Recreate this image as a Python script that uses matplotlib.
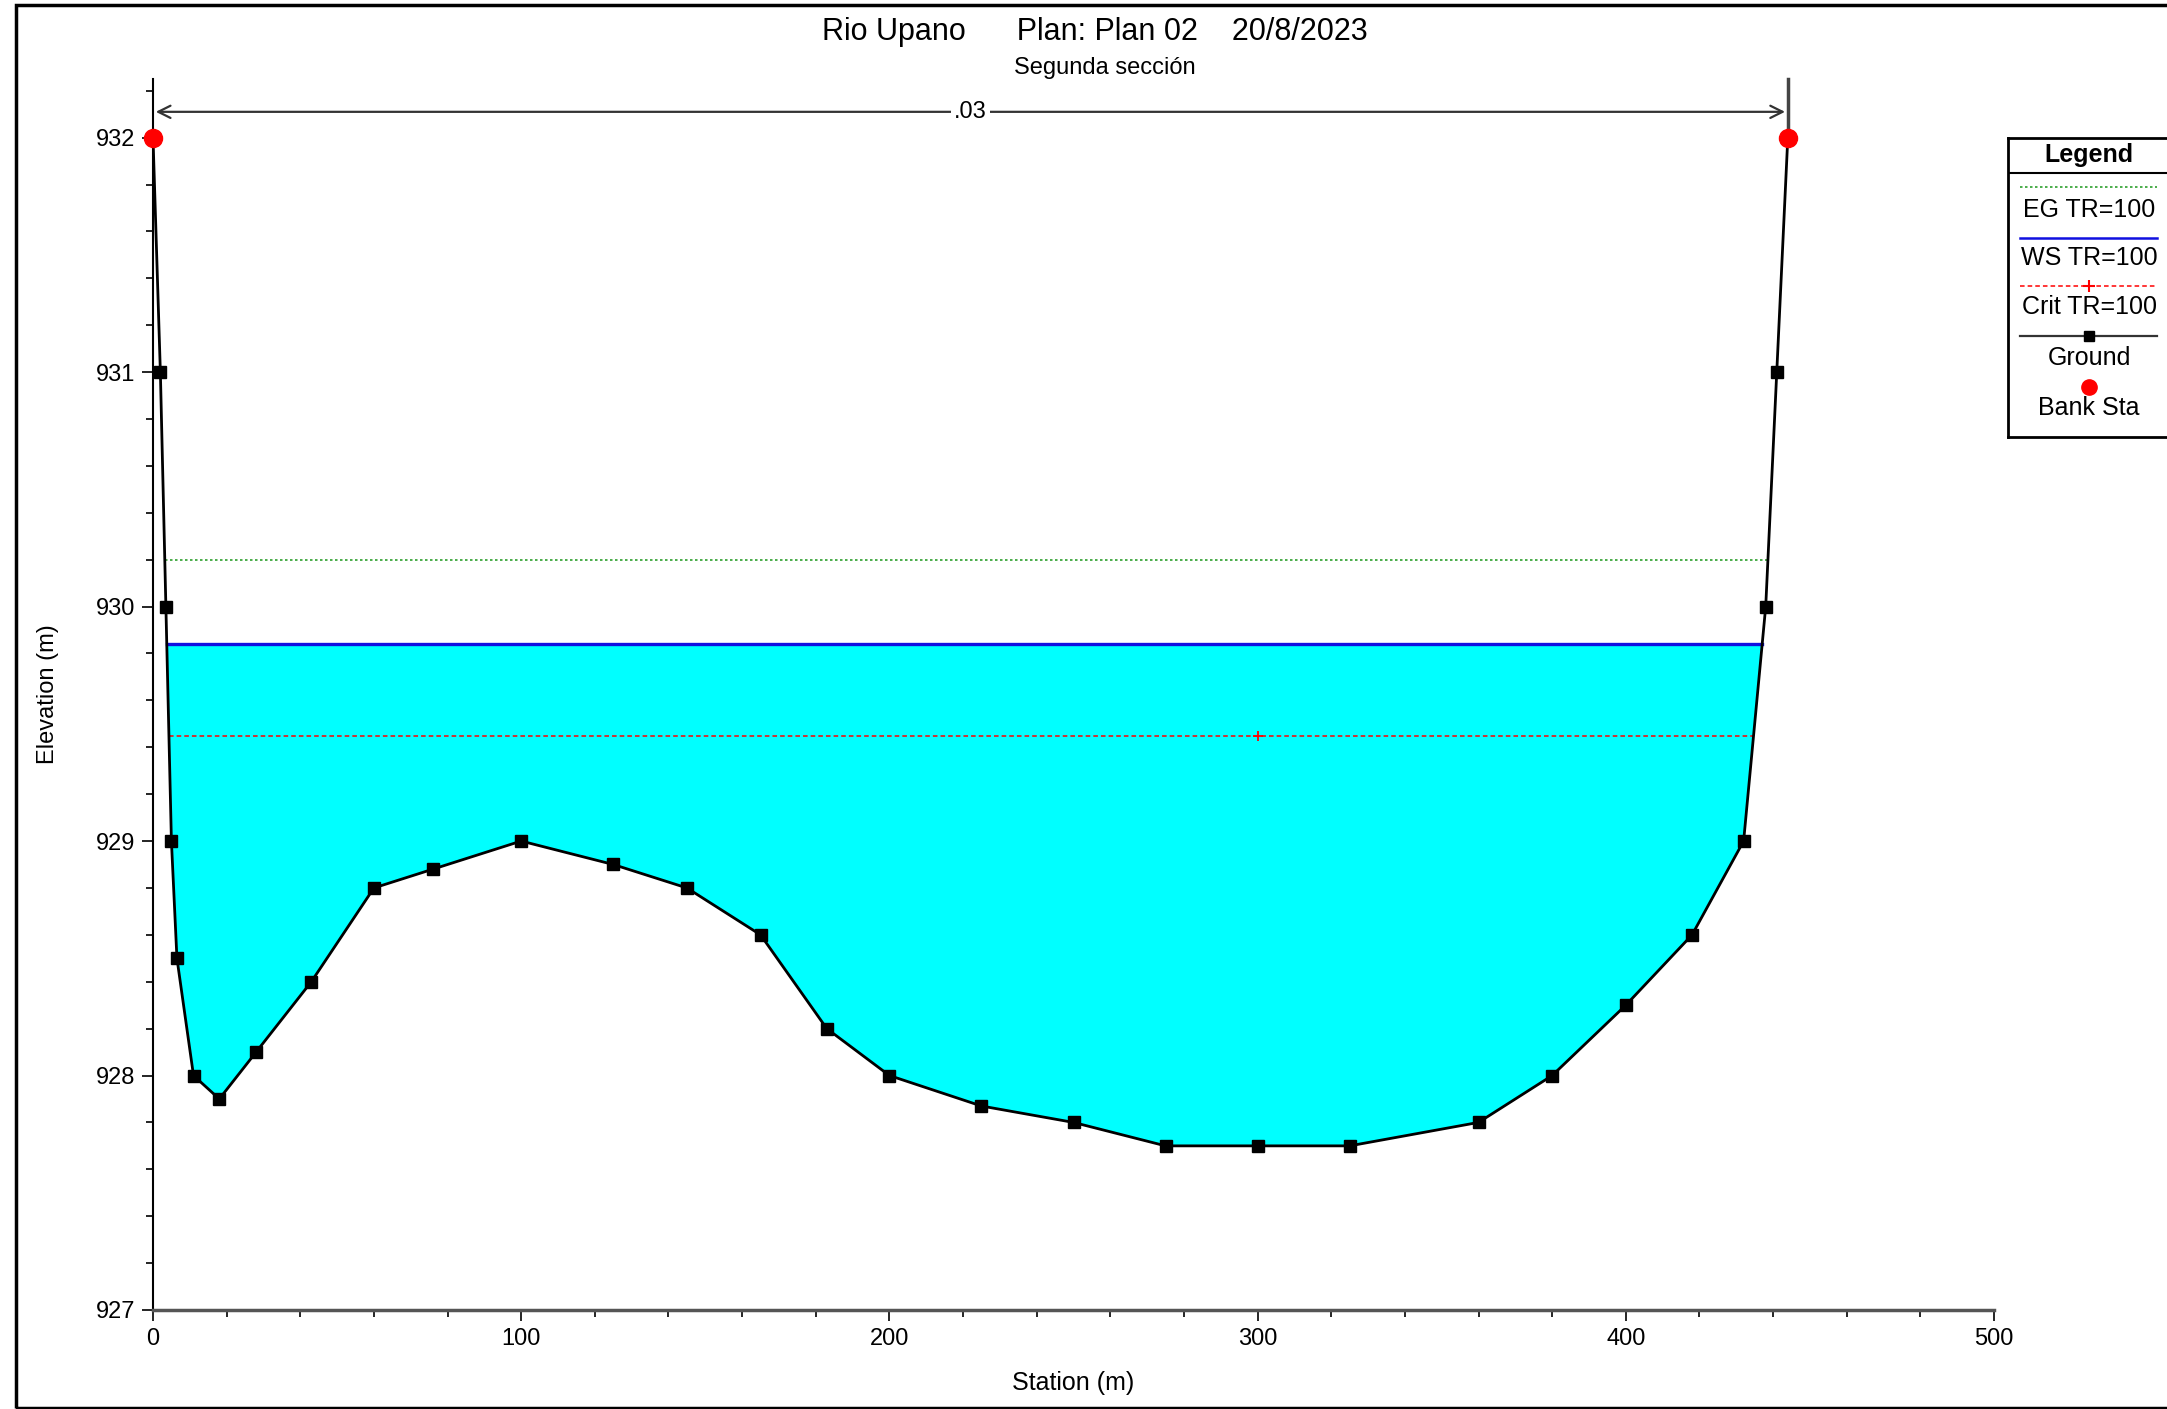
import numpy as np
import matplotlib
matplotlib.use("Agg")
import matplotlib.pyplot as plt
from matplotlib.patches import Rectangle
from matplotlib.ticker import MultipleLocator

plt.rcParams['font.family'] = ['Liberation Sans', 'DejaVu Sans']

# ground profile (station m, elevation m)
station = [0, 2, 3.5, 5, 6.5, 11, 18, 28, 43, 60, 76, 100, 125, 145, 165, 183,
           200, 225, 250, 275, 300, 325, 360, 380, 400, 418, 432, 438, 441, 444]
elevation = [932.0, 931.0, 930.0, 929.0, 928.5, 928.0, 927.9, 928.1, 928.4, 928.8,
             928.88, 929.0, 928.9, 928.8, 928.6, 928.2, 928.0, 927.87, 927.8, 927.7,
             927.7, 927.7, 927.8, 928.0, 928.3, 928.6, 929.0, 930.0, 931.0, 932.0]
bank_sta = [0, 444]
bank_elev = [932.0, 932.0]
eg_elev = 930.2
ws_elev = 929.84
crit_elev = 929.45
crit_sta = 300
n_value = ".03"

title = "Rio Upano      Plan: Plan 02    20/8/2023"
subtitle = "Segunda sección"

station = np.array(station, dtype=float)
elevation = np.array(elevation, dtype=float)


def edges(level):
    # where a horizontal level meets the two banks of the ground profile
    i_low = int(np.argmin(elevation))
    left_x = np.interp(level, elevation[:i_low + 1][::-1], station[:i_low + 1][::-1])
    right_x = np.interp(level, elevation[i_low:], station[i_low:])
    return left_x, right_x


W, H = 2167, 1409
fig = plt.figure(figsize=(W / 100, H / 100), dpi=100)
ax = fig.add_axes([153 / W, 1 - 1310 / H, (1994 - 153) / W, (1310 - 79) / H])

# water fill
ax.fill_between(station, elevation, ws_elev, where=elevation < ws_elev,
                interpolate=True, color="#00ffff", zorder=1, linewidth=0)

lx, rx = edges(eg_elev)
ax.plot([lx, rx], [eg_elev, eg_elev], color="#2ca02c", lw=1.2, ls=(0, (1.5, 1.5)), zorder=2)
lx, rx = edges(ws_elev)
ax.plot([lx, rx], [ws_elev, ws_elev], color="#1010e0", lw=2.4, zorder=3)
lx, rx = edges(crit_elev)
ax.plot([lx, rx], [crit_elev, crit_elev], color="red", lw=1.1, ls=(0, (3, 2)), zorder=3)
ax.plot([crit_sta], [crit_elev], marker="+", color="red", ms=7, mew=1.3, zorder=4)

ax.plot(station, elevation, color="black", lw=2, marker="s", ms=8, zorder=5)
ax.plot(bank_sta, bank_elev, "o", color="red", ms=13, zorder=6, clip_on=False)

# roughness arrow on top
y_arrow = 932.11
ax.annotate("", xy=(bank_sta[0], y_arrow), xytext=(bank_sta[1], y_arrow),
            arrowprops=dict(arrowstyle="<->", color="#333333", lw=1.6,
                            mutation_scale=22), annotation_clip=False)
ax.plot([bank_sta[1], bank_sta[1]], [932.0, 932.25], color="#444444", lw=2.5, clip_on=False)
ax.text(np.mean(bank_sta), y_arrow, n_value, ha="center", va="center", fontsize=17,
        bbox=dict(facecolor="white", edgecolor="none", pad=2), zorder=7)

ax.set_xlim(0, 500)
ax.set_ylim(927, 932.25)
ax.set_yticks([927, 928, 929, 930, 931, 932])
ax.xaxis.set_major_locator(MultipleLocator(100))
ax.xaxis.set_minor_locator(MultipleLocator(20))
ax.yaxis.set_minor_locator(MultipleLocator(0.2))
ax.tick_params(which="major", length=8, width=1.2, labelsize=17, pad=5)
ax.tick_params(which="minor", length=5, width=1.2)
ax.spines["top"].set_visible(False)
ax.spines["right"].set_visible(False)
ax.spines["left"].set_linewidth(1.5)
ax.spines["bottom"].set_linewidth(2.5)
ax.spines["bottom"].set_color("#555555")
ax.set_xlabel("Station (m)", fontsize=18, labelpad=15)
ax.set_ylabel("Elevation (m)", fontsize=17, labelpad=26)

fig.text(1095 / W, 1 - 32 / H, title, ha="center", va="center", fontsize=22)
fig.text(1105 / W, 1 - 68 / H, subtitle, ha="center", va="center", fontsize=17)

# page frame
fig.patches.append(Rectangle((16 / W, 1 / H), 1.0, 1 - 6 / H, transform=fig.transFigure,
                             fill=False, edgecolor="black", lw=2.5))

# legend box drawn in pixel units
lg = fig.add_axes([2008 / W, 1 - 437 / H, (W - 2008) / W, (437 - 138) / H])
lg.set_xlim(2008, W)
lg.set_ylim(437, 138)
lg.set_xticks([])
lg.set_yticks([])
lg.spines["right"].set_visible(False)
for s in ["left", "top", "bottom"]:
    lg.spines[s].set_linewidth(2)
cx = 2089
lg.text(cx, 155, "Legend", ha="center", va="center", fontsize=18, fontweight="bold")
lg.plot([2008, W], [173, 173], color="black", lw=1.5)
lg.plot([2020, 2157], [187, 187], color="#2ca02c", lw=1.2, ls=(0, (1.5, 1.5)))
lg.text(cx, 210, "EG TR=100", ha="center", va="center", fontsize=18)
lg.plot([2020, 2157], [238, 238], color="#1010e0", lw=1.8)
lg.text(cx, 258, "WS TR=100", ha="center", va="center", fontsize=18)
lg.plot([2020, 2157], [286, 286], color="red", lw=1.1, ls=(0, (3, 2)))
lg.plot([cx], [286], marker="+", color="red", ms=8, mew=1.5)
lg.text(cx, 307, "Crit TR=100", ha="center", va="center", fontsize=18)
lg.plot([2020, 2157], [336, 336], color="#333333", lw=1.6)
lg.plot([cx], [336], marker="s", color="black", ms=7)
lg.text(cx, 358, "Ground", ha="center", va="center", fontsize=18)
lg.plot([cx], [387], marker="o", color="red", ms=11)
lg.text(cx, 408, "Bank Sta", ha="center", va="center", fontsize=18)

fig.savefig("out.png", dpi=100)
